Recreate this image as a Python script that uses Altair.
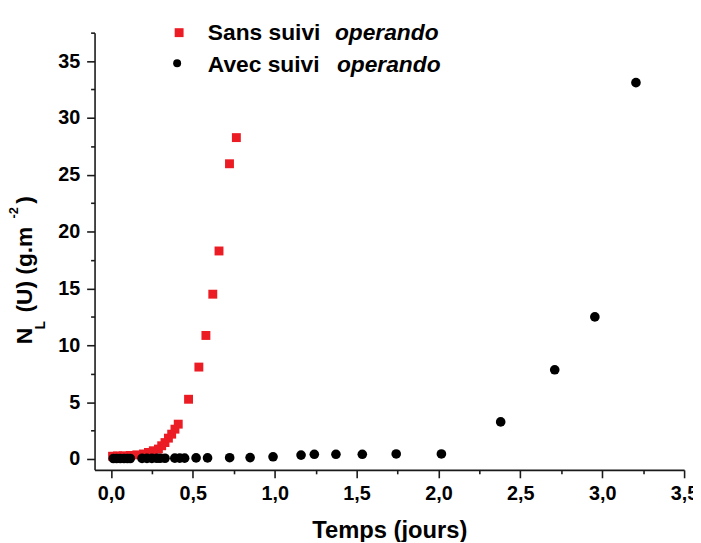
import altair as alt
import pandas as pd

# ---- data ----
sans_x = [0.01, 0.04, 0.075, 0.118, 0.158, 0.199, 0.229, 0.259, 0.290, 0.310, 0.330,
          0.351, 0.371, 0.391, 0.411, 0.474, 0.537, 0.580, 0.622, 0.660, 0.724, 0.766]
sans_y = [0.25, 0.28, 0.29, 0.32, 0.37, 0.45, 0.58, 0.73, 0.88, 1.17, 1.45,
          1.84, 2.19, 2.63, 3.07, 5.26, 8.09, 10.87, 14.5, 18.3, 25.97, 28.27]

avec_x = [0.015, 0.035, 0.057, 0.08, 0.10, 0.118, 0.19, 0.22, 0.25, 0.28, 0.30, 0.33,
          0.39, 0.42, 0.45, 0.52, 0.59, 0.725, 0.85, 0.99, 1.161, 1.242, 1.374, 1.535,
          1.742, 2.018, 2.38, 2.71, 2.955, 3.206]
avec_y = [0.05, 0.05, 0.05, 0.05, 0.05, 0.05, 0.06, 0.06, 0.06, 0.07, 0.07, 0.07,
          0.08, 0.08, 0.08, 0.10, 0.10, 0.12, 0.13, 0.20, 0.35, 0.42, 0.42, 0.42,
          0.45, 0.45, 3.27, 7.85, 12.5, 33.1]

x_major = [0.0, 0.5, 1.0, 1.5, 2.0, 2.5, 3.0, 3.5]
x_minor = [0.25, 0.75, 1.25, 1.75, 2.25, 2.75, 3.25]
y_major = [0, 5, 10, 15, 20, 25, 30, 35]
y_minor = [2.5, 7.5, 12.5, 17.5, 22.5, 27.5, 32.5, 37.5]

legend_main = ["Sans suivi", "Avec suivi"]
legend_ital = ["operando", "operando"]
x_title = "Temps (jours)"
y_title_parts = ["N", "L", "(U) (g.m", "-2", ")"]

RED = "#ec1c24"
FONT = "Liberation Sans"

sans = pd.DataFrame({"t": sans_x, "n": sans_y})
avec = pd.DataFrame({"t": avec_x, "n": avec_y})

xscale = alt.Scale(domain=[-0.1, 3.5], nice=False, zero=False)
yscale = alt.Scale(domain=[-0.95, 37.5], nice=False, zero=False)

major_common = dict(
    domainColor="#1a1a1a", domainWidth=1.6, tickColor="#1a1a1a", tickWidth=1.6,
    tickSize=8, labelFont=FONT, labelFontSize=20, labelFontWeight="bold",
    labelColor="black", grid=False, labelFlush=False, labelOverlap=False,
)

x_axis_major = alt.Axis(
    values=x_major, orient="bottom", labelExpr="replace(format(datum.value, '.1f'), '.', ',')",
    labelPadding=6, title=x_title, titleFont=FONT, titleFontSize=24,
    titleFontWeight="bold", titleColor="black", titleY=68, titleBaseline="alphabetic",
    **major_common,
)
y_axis_major = alt.Axis(
    values=y_major, orient="left", format="d", labelPadding=7, title=None,
    **major_common,
)
x_axis_minor = alt.Axis(values=x_minor, orient="bottom", labels=False, domain=False,
                        tickSize=4, tickWidth=1.6, tickColor="#1a1a1a", grid=False, title=None)
y_axis_minor = alt.Axis(values=y_minor, orient="left", labels=False, domain=False,
                        tickSize=4, tickWidth=1.6, tickColor="#1a1a1a", grid=False, title=None)

red_pts = alt.Chart(sans).mark_point(shape="square", filled=True, color=RED, size=81, opacity=1).encode(
    x=alt.X("t:Q", scale=xscale, axis=x_axis_major),
    y=alt.Y("n:Q", scale=yscale, axis=y_axis_major),
)
black_pts = alt.Chart(avec).mark_point(shape="circle", filled=True, color="black", size=95, opacity=1).encode(
    x=alt.X("t:Q", scale=xscale, axis=x_axis_minor),
    y=alt.Y("n:Q", scale=yscale, axis=y_axis_minor),
)

# ---- legend (drawn as marks, plot-relative pixel positions) ----
leg_sq = alt.Chart(pd.DataFrame({"k": [0]})).mark_point(shape="square", filled=True, color=RED, size=81, opacity=1).encode(
    x=alt.value(85.5), y=alt.value(0))
leg_dot = alt.Chart(pd.DataFrame({"k": [0]})).mark_point(shape="circle", filled=True, color="black", size=65, opacity=1).encode(
    x=alt.value(83.5), y=alt.value(31))

def txt(s, x, y, size=23, style="normal", angle=0, baseline="alphabetic"):
    return alt.Chart(pd.DataFrame({"s": [s]})).mark_text(
        font=FONT, fontSize=size, fontWeight="bold", fontStyle=style, color="black",
        align="left", baseline=baseline, angle=angle,
    ).encode(text="s:N", x=alt.value(x), y=alt.value(y))

leg1a = txt(legend_main[0], 114.5, 7.7)
leg1b = txt(legend_ital[0], 243, 7.7, style="italic")
leg2a = txt(legend_main[1], 114.5, 39.3)
leg2b = txt(legend_ital[1], 245, 39.3, style="italic")

# ---- y title pieces (rotated) ----
yt1 = txt(y_title_parts[0], -63.5, 315, size=23, angle=270)
yt2 = txt(y_title_parts[1], -50.5, 300, size=14, angle=270)
yt3 = txt(y_title_parts[2], -63.5, 283, size=23, angle=270)
yt4 = txt(y_title_parts[3], -77, 188, size=13, angle=270)
yt5 = txt(y_title_parts[4], -63.5, 173, size=23, angle=270)

chart = alt.layer(
    red_pts, black_pts, leg_sq, leg_dot, leg1a, leg1b, leg2a, leg2b,
    yt1, yt2, yt3, yt4, yt5,
).resolve_axis(x="independent", y="independent").properties(
    width=596, height=442,
    autosize=alt.AutoSizeParams(type="none"),
    padding={"left": 87.5, "top": 22, "right": 9, "bottom": 70},
    background="white",
).configure_view(stroke=None)

chart.save("out.html", embed_options={"renderer": "svg", "actions": False})
